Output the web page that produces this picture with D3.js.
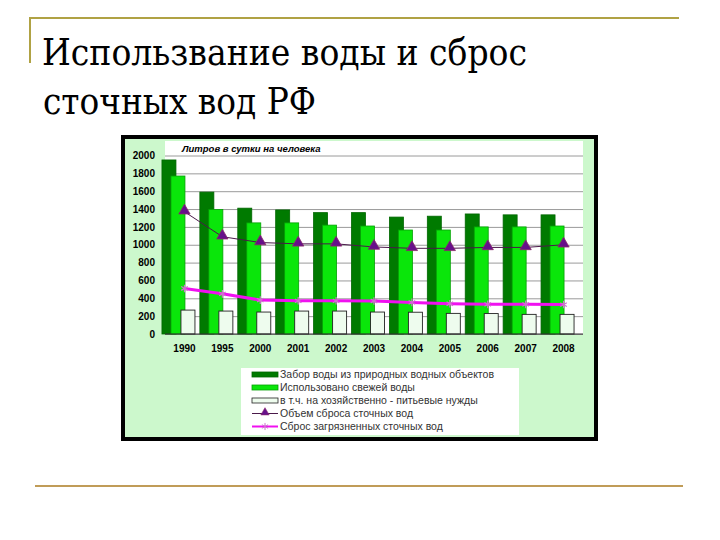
<!DOCTYPE html>
<html>
<head>
<meta charset="utf-8">
<script src="https://cdn.jsdelivr.net/npm/d3@7"></script>
<style>
  body { margin: 0; background: #fff; }
  svg { display: block; }
</style>
</head>
<body>
<div id="chart"></div>
<script>
// data, litres per day per person
const years = ["1990", "1995", "2000", "2001", "2002", "2003", "2004", "2005", "2006", "2007", "2008"];
const intake = [1950, 1590, 1410, 1390, 1360, 1360, 1310, 1320, 1345, 1335, 1335];
const freshUsed = [1770, 1395, 1245, 1245, 1220, 1210, 1165, 1165, 1200, 1200, 1210];
const household = [268, 257, 246, 257, 257, 246, 244, 231, 229, 220, 220];
const discharge = [1370, 1090, 1025, 1010, 1010, 975, 960, 960, 970, 970, 1000];
const polluted = [510, 450, 380, 372, 372, 370, 354, 339, 332, 332, 330];
const yTicks = [0, 200, 400, 600, 800, 1000, 1200, 1400, 1600, 1800, 2000];
const titleLines = ["Использвание воды и сброс", "сточных вод РФ"];
const legendLabels = [
    "Забор воды из природных водных объектов",
    "Использовано свежей воды",
    "в т.ч. на хозяйственно - питьевые нужды",
    "Объем сброса сточных вод",
    "Сброс загрязненных сточных вод"
];

const svg = d3.select("#chart")
    .append("svg")
    .attr("width", 720)
    .attr("height", 540);

// slide decorations
svg.append("line").attr("x1", 30).attr("x2", 679).attr("y1", 18).attr("y2", 18)
    .attr("stroke", "#b0a244").attr("stroke-width", 2);
svg.append("line").attr("x1", 30).attr("x2", 30).attr("y1", 17).attr("y2", 63)
    .attr("stroke", "#b0a244").attr("stroke-width", 2);
svg.append("line").attr("x1", 35).attr("x2", 683).attr("y1", 486).attr("y2", 486)
    .attr("stroke", "#c09c58").attr("stroke-width", 2);

// slide title, squeezed a bit to match the narrow serif of the original
const titleWidths = [485, 273];
svg.append("g").selectAll("text")
    .data(titleLines)
    .join("text")
    .attr("x", (d, i) => 42 + i)
    .attr("y", (d, i) => 65 + i * 49)
    .attr("textLength", (d, i) => titleWidths[i])
    .attr("lengthAdjust", "spacingAndGlyphs")
    .style("font-family", "DejaVu Serif")
    .style("font-size", "37px")
    .attr("fill", "#000")
    .text(d => d);

// chart frame
svg.append("rect")
    .attr("x", 123).attr("y", 137)
    .attr("width", 473).attr("height", 302)
    .attr("fill", "#ccf8cc")
    .attr("stroke", "#000")
    .attr("stroke-width", 4);

const x = d3.scaleBand().domain(years).range([165.5, 582.5]);
const y = d3.scaleLinear().domain([0, 2000]).range([334, 155.5]);

// plot area
svg.append("rect")
    .attr("x", 165).attr("y", 141)
    .attr("width", 418).attr("height", 193)
    .attr("fill", "#fff");

const grid = svg.append("g")
    .attr("transform", "translate(165,0)")
    .call(d3.axisLeft(y).tickValues(yTicks).tickSize(-418).tickFormat(""));
grid.select(".domain").remove();
grid.selectAll("line").attr("stroke", "#9a9a9a").attr("stroke-width", 1);

const yAxis = svg.append("g")
    .attr("transform", "translate(165,0)")
    .call(d3.axisLeft(y).tickValues(yTicks).tickFormat(d3.format("d")).tickSize(0).tickPadding(10));
yAxis.select(".domain").remove();
yAxis.selectAll("text")
    .attr("font-family", "'Liberation Sans', Arial, sans-serif")
    .attr("font-size", 10)
    .attr("font-weight", "bold")
    .attr("fill", "#000");

const bw = 14, off = 8.5;
const center = d => x(d) + x.bandwidth() / 2;

// bars
svg.append("g").selectAll("rect")
    .data(years)
    .join("rect")
    .attr("x", d => center(d) - bw / 2 - 2 * off + 1.5)
    .attr("y", (d, i) => y(intake[i]))
    .attr("width", bw)
    .attr("height", (d, i) => y(0) - y(intake[i]))
    .attr("fill", "#007a00")
    .attr("stroke", "#006600")
    .attr("stroke-width", 0.8);

svg.append("g").selectAll("rect")
    .data(years)
    .join("rect")
    .attr("x", d => center(d) - bw / 2 - off + 2)
    .attr("y", (d, i) => y(freshUsed[i]))
    .attr("width", bw)
    .attr("height", (d, i) => y(0) - y(freshUsed[i]))
    .attr("fill", "#0ae60a")
    .attr("stroke", "#05a005")
    .attr("stroke-width", 0.8);

svg.append("g").selectAll("rect")
    .data(years)
    .join("rect")
    .attr("x", d => center(d) - bw / 2 + 2.5 + 1)
    .attr("y", (d, i) => y(household[i]))
    .attr("width", bw)
    .attr("height", (d, i) => y(0) - y(household[i]))
    .attr("fill", "#eefcee")
    .attr("stroke", "#222")
    .attr("stroke-width", 0.9);

// baseline
svg.append("line")
    .attr("x1", 165).attr("x2", 583)
    .attr("y1", y(0)).attr("y2", y(0))
    .attr("stroke", "#333").attr("stroke-width", 1);

// lines
const lineFor = vals => d3.line()
    .x(d => center(d))
    .y((d, i) => y(vals[i]));

svg.append("path")
    .datum(years)
    .attr("d", lineFor(discharge))
    .attr("fill", "none")
    .attr("stroke", "#4a1a4a")
    .attr("stroke-width", 1);

svg.append("g").selectAll("path")
    .data(years)
    .join("path")
    .attr("d", d3.symbol(d3.symbolTriangle, 55))
    .attr("transform", (d, i) => `translate(${center(d)},${y(discharge[i]) - 1})`)
    .attr("fill", "#66108a")
    .attr("stroke", "#8a2a6a")
    .attr("stroke-width", 0.8);

svg.append("path")
    .datum(years)
    .attr("d", lineFor(polluted))
    .attr("fill", "none")
    .attr("stroke", "#f010f0")
    .attr("stroke-width", 3);

svg.append("g").selectAll("path")
    .data(years)
    .join("path")
    .attr("d", d3.symbol(d3.symbolAsterisk, 40))
    .attr("transform", (d, i) => `translate(${center(d)},${y(polluted[i])})`)
    .attr("fill", "none")
    .attr("stroke", "#d070d0")
    .attr("stroke-width", 1.2);

// chart title inside plot
svg.append("text")
    .attr("x", 182).attr("y", 152)
    .attr("font-family", "'Liberation Sans', Arial, sans-serif")
    .attr("font-size", 9.5)
    .attr("font-weight", "bold")
    .attr("font-style", "italic")
    .attr("fill", "#000")
    .text("Литров в сутки на человека");

// x labels
const xAxis = svg.append("g")
    .attr("transform", "translate(0,348)")
    .call(d3.axisBottom(x).tickSize(0).tickPadding(0));
xAxis.select(".domain").remove();
xAxis.selectAll("text")
    .attr("dy", "0.35em")
    .attr("font-family", "'Liberation Sans', Arial, sans-serif")
    .attr("font-size", 10)
    .attr("font-weight", "bold")
    .attr("fill", "#000");

// legend
svg.append("rect")
    .attr("x", 241).attr("y", 368)
    .attr("width", 278).attr("height", 67)
    .attr("fill", "#fff");

const legend = svg.append("g").selectAll("g")
    .data(legendLabels)
    .join("g")
    .attr("transform", (d, i) => `translate(252,${374.5 + i * 13})`);

const swatchFill = ["#007a00", "#0ae60a", "#eefcee"];
const swatchStroke = ["#006600", "#05a005", "#222"];
legend.filter((d, i) => i < 3)
    .append("rect")
    .attr("x", 0).attr("y", -2.5)
    .attr("width", 26).attr("height", 5)
    .attr("fill", (d, i) => swatchFill[i])
    .attr("stroke", (d, i) => swatchStroke[i])
    .attr("stroke-width", 0.8);

legend.filter((d, i) => i === 3)
    .call(g => {
        g.append("line").attr("x1", 0).attr("x2", 26)
            .attr("stroke", "#4a1a4a").attr("stroke-width", 1);
        g.append("path").attr("d", d3.symbol(d3.symbolTriangle, 30))
            .attr("transform", "translate(13,-1)")
            .attr("fill", "#66108a").attr("stroke", "#8a2a6a").attr("stroke-width", 0.6);
    });

legend.filter((d, i) => i === 4)
    .call(g => {
        g.append("line").attr("x1", 0).attr("x2", 26)
            .attr("stroke", "#f010f0").attr("stroke-width", 2);
        g.append("path").attr("d", d3.symbol(d3.symbolAsterisk, 35))
            .attr("transform", "translate(13,0)")
            .attr("fill", "none").attr("stroke", "#d070d0").attr("stroke-width", 1);
    });

legend.append("text")
    .attr("x", 28)
    .attr("dy", "0.35em")
    .attr("font-family", "'Liberation Sans', Arial, sans-serif")
    .attr("font-size", 10.5)
    .attr("fill", "#333")
    .text(d => d);
</script>
</body>
</html>
